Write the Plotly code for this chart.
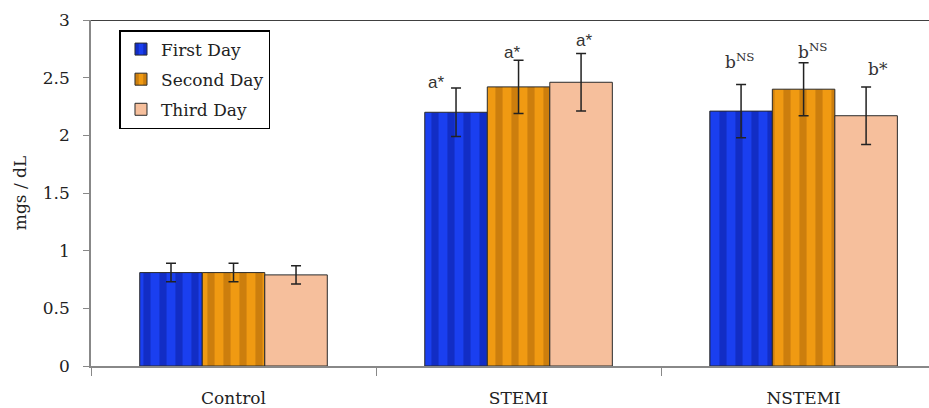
import plotly.graph_objects as go

categories = ["Control", "STEMI", "NSTEMI"]
series_names = ["First Day", "Second Day", "Third Day"]
first_day = [0.81, 2.20, 2.21]
second_day = [0.81, 2.42, 2.40]
third_day = [0.79, 2.46, 2.17]
first_err = [0.08, 0.21, 0.23]
second_err = [0.08, 0.23, 0.23]
third_err = [0.08, 0.25, 0.25]
first_labels = ["", "a*", "b<sup>NS</sup>"]
second_labels = ["", "a*", "b<sup>NS</sup>"]
third_labels = ["", "a*", "b*"]
y_ticks = [0, 0.5, 1, 1.5, 2, 2.5, 3]
y_tick_labels = ["0", "0.5", "1", "1.5", "2", "2.5", "3"]

FONT = "DejaVu Serif"
values = [first_day, second_day, third_day]
errs = [first_err, second_err, third_err]
labels = [first_labels, second_labels, third_labels]
bgs = ["#1a3ff0", "#f09a12", "#f6bf9c"]
fgs = ["#0a1c9a", "#a86208", "#d0406a"]
pattern_shapes = ["|", "|", ""]

fig = go.Figure()
for i in range(3):
    fig.add_trace(go.Bar(
        name=series_names[i], x=categories, y=values[i], legendgroup=series_names[i],
        marker=dict(color=bgs[i], line=dict(color="#2a2a2a", width=1),
                    pattern=dict(shape=pattern_shapes[i], fgcolor=fgs[i], size=16, solidity=0.45)),
        error_y=dict(type="data", array=errs[i], color="#222222", thickness=1.5, width=5),
    ))

# label placement (pixel offsets from the top of each error bar): [series][category]
bar_offsets = [-0.219, 0.0, 0.219]
x_shifts = [[0, -20, -2], [0, -7, 9], [0, 3, 12]]
y_shifts = [[0, 6, 24], [0, 8, 12], [0, 13, 18]]
ann = []
for i in range(3):
    for j in range(len(categories)):
        txt = labels[i][j]
        if txt:
            fam = "Liberation Sans" if txt.startswith("a") else FONT
            ann.append(dict(x=j + bar_offsets[i], y=values[i][j] + errs[i][j], xref="x", yref="y",
                            text=txt, showarrow=False, yanchor="middle", xanchor="center",
                            xshift=x_shifts[i][j], yshift=y_shifts[i][j],
                            font=dict(family=fam, size=17, color="#333333")))
fig.update_layout(annotations=ann)

fig.add_shape(type="line", xref="paper", yref="y", x0=0, x1=1, y0=3, y1=3,
              line=dict(color="black", width=1.5))

fig.update_layout(
    width=929, height=408,
    margin=dict(l=91, r=0, t=20, b=42),
    plot_bgcolor="white", paper_bgcolor="white",
    barmode="group", bargap=0.342, bargroupgap=0,
    font=dict(family=FONT, size=17, color="#222222"),
    showlegend=True,
    legend=dict(x=0.034, y=0.971, xanchor="left", yanchor="top",
                bordercolor="black", borderwidth=1.5, bgcolor="white",
                font=dict(family=FONT, size=17, color="#222222"),
                itemwidth=30, tracegroupgap=5),
    xaxis=dict(range=[-0.5, 2.44], showline=True, linecolor="#888888", linewidth=1.5,
               ticks="outside", tickson="boundaries", ticklen=8, tickcolor="#888888",
               ticklabelstandoff=16, showgrid=False, zeroline=False, automargin=False,
               tickfont=dict(family=FONT, size=17, color="#222222")),
    yaxis=dict(range=[0, 3], tickvals=y_ticks, ticktext=y_tick_labels,
               showline=True, linecolor="#888888", linewidth=1.5, automargin=False,
               ticks="outside", ticklen=6, tickcolor="#888888", showgrid=False, zeroline=False,
               ticklabelstandoff=10,
               tickfont=dict(family=FONT, size=17, color="#222222"),
               title=dict(text="mgs / dL", font=dict(family=FONT, size=17, color="#222222"), standoff=12)),
)

fig.write_html("out.html", config={"displayModeBar": False},
               post_script="document.body.style.margin='0';")
